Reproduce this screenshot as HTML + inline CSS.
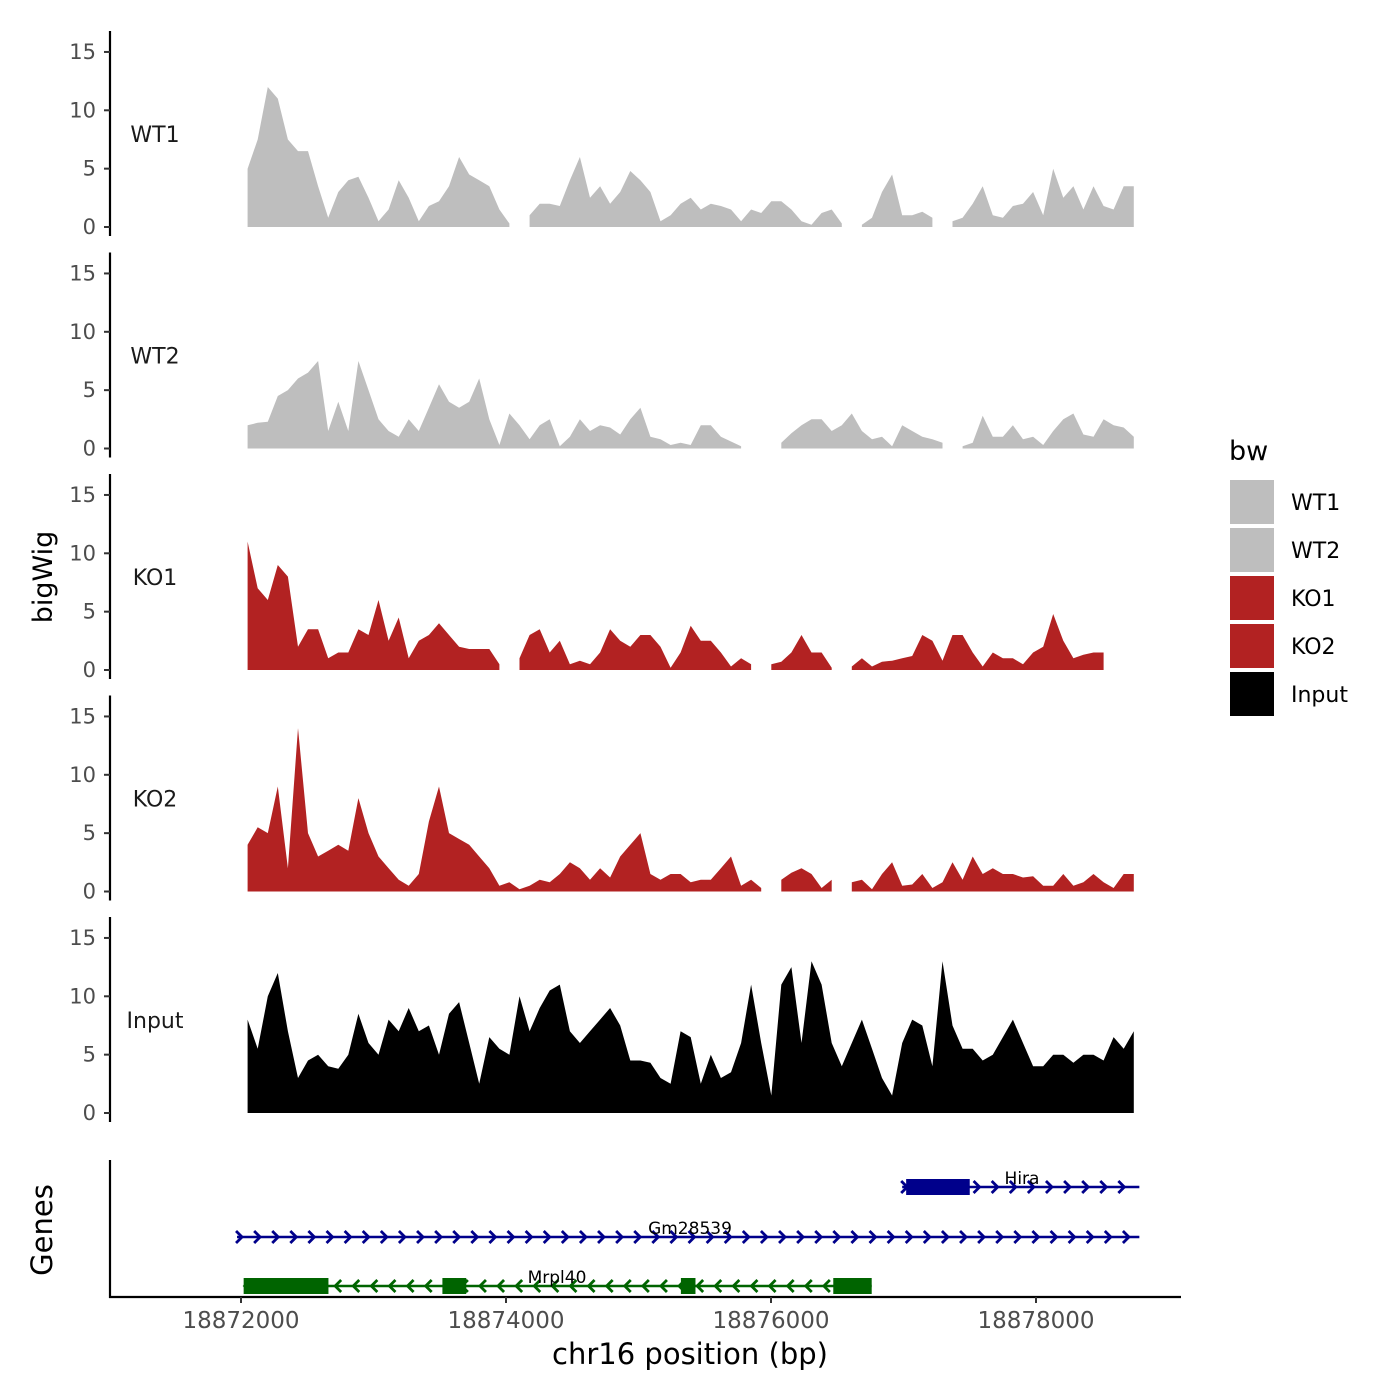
<!DOCTYPE html>
<html><head><meta charset="utf-8">
<style>
html,body{margin:0;padding:0;background:#fff;}
svg{display:block;font-family:"DejaVu Sans","Liberation Sans",sans-serif;}
</style></head>
<body>
<svg id="chart" width="1400" height="1400" viewBox="0 0 1400 1400" xmlns="http://www.w3.org/2000/svg">
<rect x="0" y="0" width="1400" height="1400" fill="#fff"/>
<g id="tracks"></g>
<g id="genes"></g>
<g id="legend"></g>
<text x="52" y="577" transform="rotate(-90 52 577)" text-anchor="middle" font-size="27" fill="#000">bigWig</text>
<text x="52" y="1230" transform="rotate(-90 52 1230)" text-anchor="middle" font-size="29" fill="#000">Genes</text>
<text x="690" y="1364" text-anchor="middle" font-size="29" fill="#000">chr16 position (bp)</text>
</svg>
<script>
const trackNames = ["WT1","WT2","KO1","KO2","Input"];
const trackColors = ["#bebebe","#bebebe","#b22222","#b22222","#000000"];
const binStart = 18872050;
const binSize = 76;
const yTicks = [0,5,10,15];
const xTicks = [18872000,18874000,18876000,18878000];
const wt1 = [5,7.5,12,11,7.5,6.5,6.5,3.5,0.8,3,4,4.3,2.5,0.5,1.5,4,2.5,0.5,1.8,2.2,3.5,6,4.5,4,3.5,1.5,0.3,null,1,2,2,1.8,4,6,2.5,3.5,2,3,4.8,4,3,0.5,1,2,2.5,1.5,2,1.8,1.5,0.5,1.5,1.2,2.2,2.2,1.5,0.5,0.2,1.2,1.5,0.3,null,0.2,0.8,3,4.5,1,1,1.3,0.8,null,0.5,0.8,2,3.5,1,0.8,1.8,2,3,1,5,2.5,3.5,1.5,3.5,1.8,1.5,3.5,3.5];
const wt2 = [2,2.2,2.3,4.5,5,6,6.5,7.5,1.5,4,1.5,7.5,5,2.5,1.5,1,2.5,1.5,3.5,5.5,4,3.5,4,6,2.5,0.3,3,2,0.8,2,2.5,0.2,1,2.5,1.5,2,1.8,1.2,2.5,3.5,1,0.8,0.3,0.5,0.3,2,2,1,0.6,0.2,null,null,null,0.5,1.3,2,2.5,2.5,1.5,2,3,1.5,0.8,1,0.2,2,1.5,1,0.8,0.5,null,0.2,0.5,2.8,1,1,2,0.8,1,0.3,1.5,2.5,3,1.2,1,2.5,2,1.8,1];
const ko1 = [11,7,6,9,8,2,3.5,3.5,1,1.5,1.5,3.5,3,6,2.5,4.5,1,2.5,3,4,3,2,1.8,1.8,1.8,0.5,null,1,3,3.5,1.5,2.5,0.5,0.8,0.5,1.5,3.5,2.5,2,3,3,2,0.2,1.5,3.8,2.5,2.5,1.5,0.3,1,0.5,null,0.5,0.7,1.5,3,1.5,1.5,0.2,null,0.3,1,0.3,0.7,0.8,1,1.2,3,2.5,0.8,3,3,1.5,0.3,1.5,1,1,0.5,1.5,2,4.8,2.5,1,1.3,1.5,1.5,null,null,0.3];
const ko2 = [4,5.5,5,9,2,14,5,3,3.5,4,3.5,8,5,3,2,1,0.5,1.5,6,9,5,4.5,4,3,2,0.5,0.8,0.2,0.5,1,0.8,1.5,2.5,2,1,2,1.2,3,4,5,1.5,1,1.5,1.5,0.8,1,1,2,3,0.5,1,0.3,null,1,1.6,2,1.5,0.3,1,null,0.8,1,0.2,1.5,2.5,0.5,0.6,1.5,0.3,0.8,2.5,1,3,1.5,2,1.5,1.5,1.2,1.3,0.5,0.5,1.5,0.5,0.8,1.5,0.8,0.3,1.5,1.5];
const inputVals = [8,5.5,10,12,7,3,4.5,5,4,3.8,5,8.5,6,5,8,7,9,7,7.5,5,8.5,9.5,6,2.5,6.5,5.5,5,10,7,9,10.5,11,7,6,7,8,9,7.5,4.5,4.5,4.3,3,2.5,7,6.5,2.5,5,3,3.5,6,11,6,1.5,11,12.5,6,13,11,6,4,6,8,5.5,3,1.5,6,8,7.5,4,13,7.5,5.5,5.5,4.5,5,6.5,8,6,4,4,5,5,4.3,5,5,4.5,6.5,5.5,7];
const trackValues = [wt1,wt2,ko1,ko2,inputVals];
const geneNames = ["Hira","Gm28539","Mrpl40"];
const geneStrands = ["+","+","-"];
const geneStarts = [18876990,18871970,18872020];
const geneEnds = [18878780,18878780,18876760];
const exonStarts = [[18877020],[],[18872020,18873520,18875320,18876470]];
const exonEnds = [[18877500],[],[18872660,18873700,18875430,18876760]];

const NS="http://www.w3.org/2000/svg";
function mk(tag,attrs,parent){const e=document.createElementNS(NS,tag);for(const k in attrs)e.setAttribute(k,attrs[k]);parent.appendChild(e);return e;}
const xScale = bp => 241 + (bp-18872000)*0.1325;
const panelZero = i => 227 + i*221.5;
const yScale = (i,v) => panelZero(i) - v*11.67;

const tracks=document.getElementById('tracks');
trackNames.forEach((name,i)=>{
  const g=mk('g',{},tracks);
  
  
  const y0=panelZero(i);
  const ax=mk('line',{x1:110,x2:110,y1:y0+9,y2:y0-196,stroke:'#000','stroke-width':2.2},g);
  
  
  yTicks.forEach(t=>{
    const y=yScale(i,t);
    const tk=mk('line',{x1:104,x2:110,y1:y,y2:y,stroke:'#333','stroke-width':2},g);
    
    
    const tl=mk('text',{x:96,y:y+7,'text-anchor':'end','font-size':21,fill:'#4d4d4d'},g);
    tl.textContent=t;
    
    
  });
  const lab=mk('text',{x:155,y:y0-85,'text-anchor':'middle','font-size':22,fill:'#1a1a1a'},g);
  lab.textContent=name;
  
  
  const vals=trackValues[i];
  let seg=[];
  const flush=()=>{
    if(seg.length){
      let d='M'+seg[0][0]+','+y0;
      seg.forEach(p=>d+=' L'+p[0]+','+p[1]);
      d+=' L'+seg[seg.length-1][0]+','+y0+' Z';
      const a=mk('path',{d:d,fill:trackColors[i],stroke:'none'},g);
      
      
    }
    seg=[];
  };
  vals.forEach((v,k)=>{
    if(v===null){flush();return;}
    const bp=binStart+k*binSize;
    seg.push([xScale(bp).toFixed(1),yScale(i,v).toFixed(1)]);
  });
  flush();
});

const gp=document.getElementById('genes');
const gax=mk('line',{x1:110,x2:110,y1:1160,y2:1298,stroke:'#000','stroke-width':2.2},gp);


const xax=mk('line',{x1:109,x2:1181,y1:1297,y2:1297,stroke:'#000','stroke-width':2.2},gp);


xTicks.forEach(t=>{
  const x=xScale(t);
  const tk=mk('line',{x1:x,x2:x,y1:1297,y2:1303,stroke:'#333','stroke-width':2},gp);
  
  
  const tl=mk('text',{x:x,y:1328,'text-anchor':'middle','font-size':23,fill:'#4d4d4d'},gp);
  tl.textContent=t;
  
  
});
const geneY=[1187,1237,1286];
const geneCol=["#00008b","#00008b","#006400"];
geneNames.forEach((n,i)=>{
  const g=mk('g',{},gp);
  
  
  const y=geneY[i],c=geneCol[i];
  const x1=xScale(geneStarts[i]),x2=xScale(geneEnds[i]);
  mk('line',{x1:x1,x2:x2,y1:y,y2:y,stroke:c,'stroke-width':2.5},g);
  for(let x=x1+3;x<=x2;x+=18.1){
    const d=geneStrands[i]==='+'?`M${x-4},${y-6} L${x+2},${y} L${x-4},${y+6}`:`M${x+4},${y-6} L${x-2},${y} L${x+4},${y+6}`;
    mk('path',{d:d,stroke:c,'stroke-width':2.8,fill:'none'},g);
  }
  exonStarts[i].forEach((s,k)=>{
    const a=xScale(s),b=xScale(exonEnds[i][k]);
    const r=mk('rect',{x:a,y:y-8,width:b-a,height:16,fill:c},g);
    
    
  });
  const lx={0:1022,1:690,2:557}[i];
  const t=mk('text',{x:lx,y:y-3,'text-anchor':'middle','font-size':17,fill:'#000'},g);
  t.textContent=n;
  
  
});

const lg=document.getElementById('legend');
const lt=mk('text',{x:1229,y:460,'font-size':27,fill:'#000'},lg);
lt.textContent='bw';


trackNames.forEach((n,i)=>{
  const g=mk('g',{},lg);
  
  
  mk('rect',{x:1230,y:480+i*48,width:44,height:44,fill:trackColors[i]},g);
  const t=mk('text',{x:1291,y:510+i*48,'font-size':22,fill:'#000'},g);
  t.textContent=n;
});
</script>
</body></html>
